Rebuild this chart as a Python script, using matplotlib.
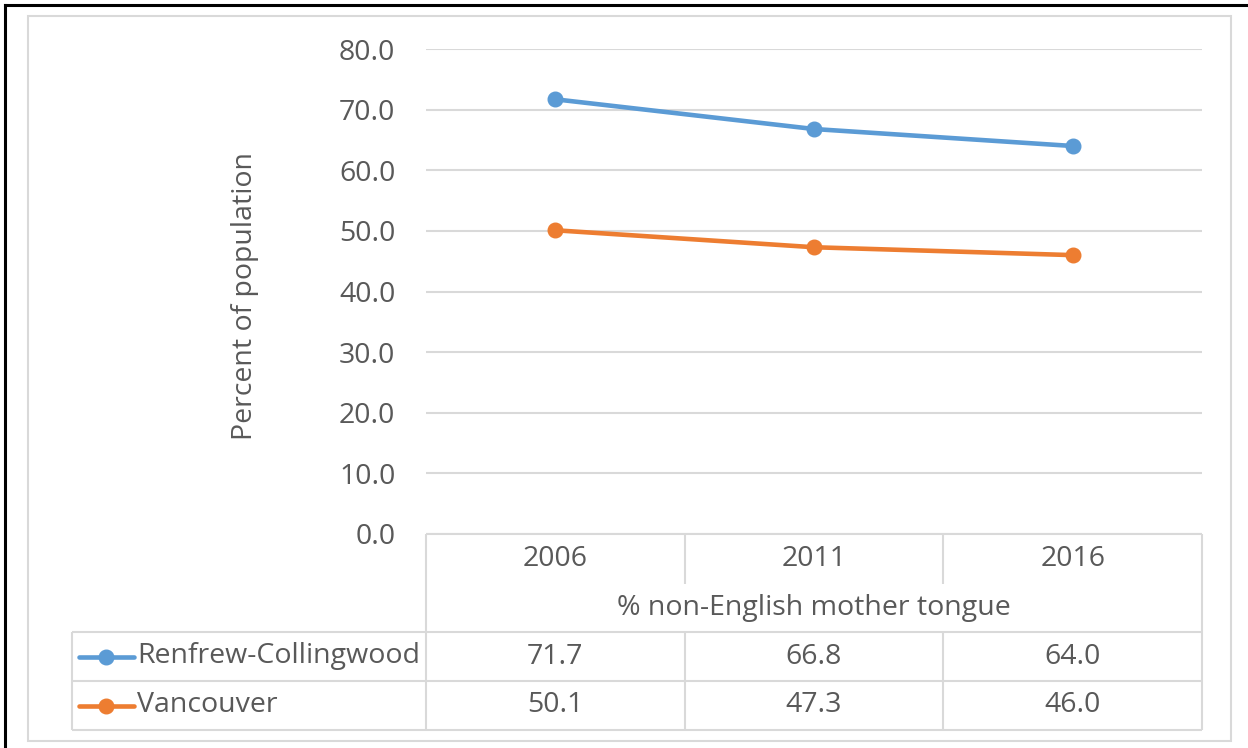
import matplotlib
matplotlib.use('Agg')
import matplotlib.pyplot as plt
from matplotlib.patches import Rectangle

years = ['2006', '2011', '2016']
category = '% non-English mother tongue'
series_names = ['Renfrew-Collingwood', 'Vancouver']
renfrew = [71.7, 66.8, 64.0]
vancouver = [50.1, 47.3, 46.0]
y_ticks = [0, 10, 20, 30, 40, 50, 60, 70, 80]

blue = '#5B9BD5'
orange = '#ED7D31'
txt = '#595959'
grid_c = '#D9D9D9'
fs = 20.5

plt.rcParams['font.family'] = ['Open Sans', 'DejaVu Sans']

W, H = 1248, 748
fig = plt.figure(figsize=(W / 100, H / 100), dpi=100)

# overlay in pixel coords for the table, borders, legend keys
ov = fig.add_axes([0, 0, 1, 1], zorder=0)
ov.set_xlim(0, W)
ov.set_ylim(H, 0)
ov.axis('off')

left, right, top, bottom = 426, 1202, 49, 534
ax = fig.add_axes([left / W, 1 - bottom / H, (right - left) / W, (bottom - top) / H], zorder=1)
ax.patch.set_alpha(0)

series = [renfrew, vancouver]
colors = [blue, orange]
xs = list(range(len(years)))
for vals, c in zip(series, colors):
    ax.plot(xs, vals, color=c, lw=3.3, marker='o', ms=10.5, solid_capstyle='round', zorder=3)

ax.set_xlim(-0.5, len(years) - 0.5)
ax.set_ylim(y_ticks[0], y_ticks[-1])
ax.set_yticks(y_ticks)
ax.set_yticklabels(['%.1f' % v for v in y_ticks])
ax.set_xticks([])
ax.yaxis.grid(True, color=grid_c, lw=1.5)
ax.set_axisbelow(True)
for s in ax.spines.values():
    s.set_visible(False)
ax.tick_params(axis='y', length=0, pad=22, labelsize=fs, labelcolor=txt)
ax.set_ylabel('Percent of population', fontsize=fs, color=txt)
ax.yaxis.set_label_coords((259 - left) / (right - left), 0.49)

# column edges in pixels from the data axis
edges = [ax.transData.transform((x - 0.5, 0))[0] for x in range(len(years) + 1)]
centers = [ax.transData.transform((x, 0))[0] for x in xs]

row_year = (534, 584)
row_cat = (584, 632)
row_s = [(632, 681), (681, 730)]
leg_left = 72
lc = dict(color=grid_c, lw=1.5, solid_capstyle='butt')

# table top (axis line) and verticals
ov.plot([edges[0], edges[-1]], [row_year[0], row_year[0]], **lc)
ov.plot([edges[0], edges[0]], [row_year[0], row_s[-1][1]], **lc)
ov.plot([edges[-1], edges[-1]], [row_year[0], row_s[-1][1]], **lc)
for e in edges[1:-1]:
    ov.plot([e, e], [row_year[0], row_year[1]], **lc)
    ov.plot([e, e], [row_s[0][0], row_s[-1][1]], **lc)
for y0, y1 in row_s:
    ov.plot([leg_left, edges[-1]], [y0, y0], **lc)
ov.plot([leg_left, edges[-1]], [row_s[-1][1], row_s[-1][1]], **lc)
ov.plot([leg_left, leg_left], [row_s[0][0], row_s[-1][1]], **lc)

ymid = lambda r: (r[0] + r[1]) / 2
for cx, yr in zip(centers, years):
    ov.text(cx, ymid(row_year), yr, ha='center', va='center', fontsize=fs, color=txt)
ov.text((edges[0] + edges[-1]) / 2, ymid(row_cat), category, ha='center', va='center', fontsize=fs, color=txt)

for r, name, vals, c in zip(row_s, series_names, series, colors):
    ym = ymid(r)
    ov.plot([79, 134], [ym, ym], color=c, lw=3.3, solid_capstyle='round')
    ov.plot([106], [ym], 'o', color=c, ms=10.5)
    ov.text(137, ym, name, ha='left', va='center', fontsize=fs, color=txt)
    for cx, v in zip(centers, vals):
        ov.text(cx, ym, '%.1f' % v, ha='center', va='center', fontsize=fs, color=txt)

# chart area border and outer frame
ov.add_patch(Rectangle((28, 16), 1231 - 28, 741 - 16, fill=False, ec=grid_c, lw=1.5))
ov.plot([5, 5], [5, H], color='k', lw=2.2)
ov.plot([5, W], [5, 5], color='k', lw=2.2)

fig.savefig('out.png', dpi=100)
